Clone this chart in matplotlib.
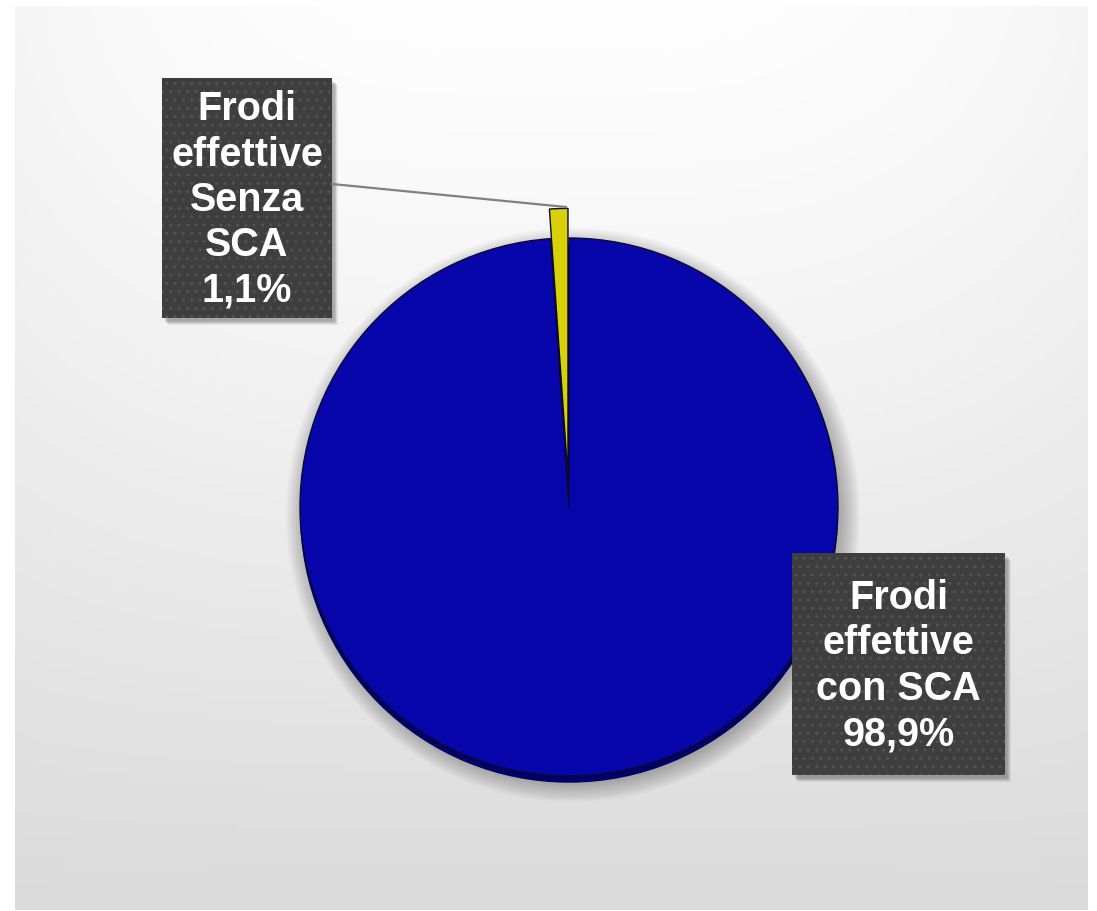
import numpy as np
import matplotlib
matplotlib.use("Agg")
import matplotlib.pyplot as plt
from matplotlib.patches import Rectangle, Circle

plt.rcParams['font.family'] = ['Liberation Sans', 'DejaVu Sans']

# data
labels = ['Frodi\neffettive\nSenza\nSCA', 'Frodi\neffettive\ncon SCA']
values = [1.1, 98.9]
colors = ['#d8d10a', '#0606aa']
explode = [0.11, 0.0]

W, H = 1097, 911
fig = plt.figure(figsize=(W / 100, H / 100), dpi=100)

# background panel with soft gradient
bg = fig.add_axes([0, 0, 1, 1], zorder=0)
bg.set_xlim(0, W)
bg.set_ylim(H, 0)
bg.axis('off')
yy = np.linspace(0, 1, 200)[:, None]
xx = np.linspace(-1, 1, 300)[None, :]
shade = 0.995 - 0.14 * yy ** 1.3 - 0.035 * np.abs(xx) ** 3 * (1 - yy)
bg.imshow(np.dstack([shade] * 3), extent=(15, 1088, 910, 6), aspect='auto', zorder=0)

# soft shadow under the pie
cx, cy, r = 569, 507, 269
for i in range(14):
    bg.add_patch(Circle((cx + 4, cy + 8), r + 18 - i * 1.4, color='black',
                        alpha=0.018, lw=0, zorder=1))

# pie
size = 2 * r * 1.25
pax = fig.add_axes([(cx - size / 2) / W, (H - cy - size / 2) / H, size / W, size / H], zorder=1)
pax.patch.set_alpha(0)
# darker rim for the slight 3D look
pax.pie([100], colors=['#000066'], radius=1.0, center=(0.0, -0.025),
        wedgeprops=dict(linewidth=0))
wedges, _ = pax.pie(values, colors=colors, startangle=90, counterclock=True,
                    explode=explode, radius=1.0,
                    wedgeprops=dict(edgecolor='#0a0a30', linewidth=1.0))
pax.set_xlim(-1.25, 1.25)
pax.set_ylim(-1.25, 1.25)
pax.axis('off')

# overlay for labels
ov = fig.add_axes([0, 0, 1, 1], zorder=2)
ov.set_xlim(0, W)
ov.set_ylim(H, 0)
ov.axis('off')
ov.patch.set_alpha(0)

boxes = [(162, 78, 170, 240), (792, 553, 213, 222)]
for k, (x0, y0, bw, bh) in enumerate(boxes):
    for j in range(6):
        ov.add_patch(Rectangle((x0 + 2 + j * 0.8, y0 + 3 + j * 0.8), bw, bh,
                               facecolor='black', alpha=0.06, lw=0, zorder=1))
    ov.add_patch(Rectangle((x0, y0), bw, bh, facecolor='#3e3e3e', edgecolor='#525252',
                           hatch='..', lw=0, zorder=2))
    txt = labels[k] + '\n' + ('%.1f%%' % values[k]).replace('.', ',')
    ov.text(x0 + bw / 2, y0 + bh / 2 + 2, txt, color='white', fontsize=28.5,
            fontweight='bold', ha='center', va='center', linespacing=1.25, zorder=3)

# leader line to the small slice
ov.plot([332, 566], [184, 207], color='#808080', lw=1.6, zorder=2)

fig.savefig('out.png', dpi=100)
